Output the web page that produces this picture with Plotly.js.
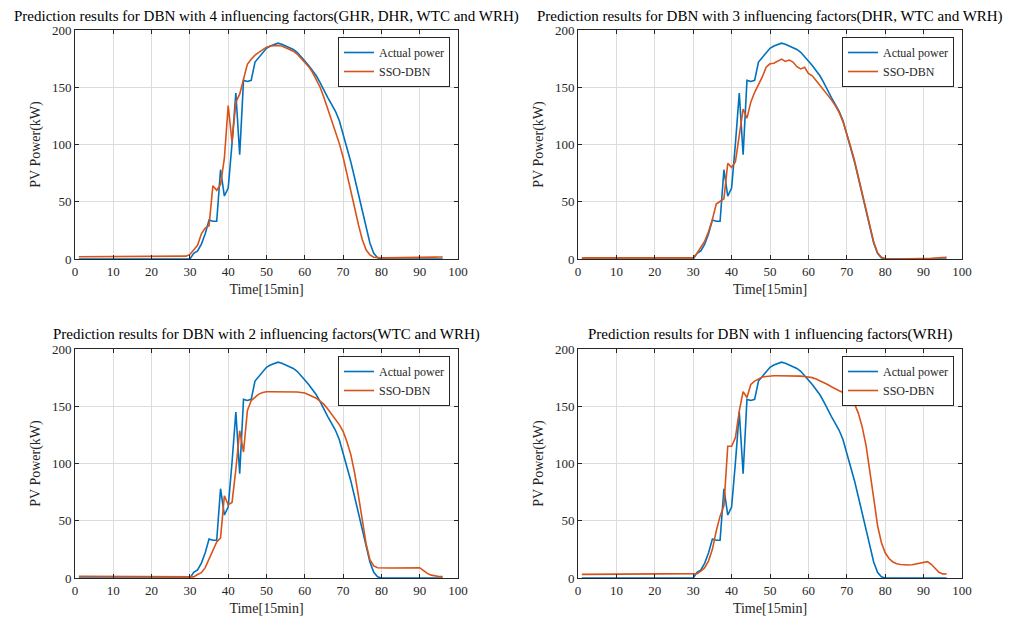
<!DOCTYPE html>
<html>
<head>
<meta charset="utf-8">
<script src="https://cdn.plot.ly/plotly-3.0.1.min.js"></script>
<style>html,body{margin:0;padding:0;background:#fff;}#chart{width:1018px;height:621px;}</style>
</head>
<body>
<div id="chart"></div>
<script>
var timeIdx = [1,2,3,4,5,6,7,8,9,10,11,12,13,14,15,16,17,18,19,20,21,22,23,24,25,26,27,28,29,30,
31,32,33,34,35,36,37,38,39,40,41,42,43,44,45,46,47,48,49,50,51,52,53,54,55,56,57,58,59,60,
61,62,63,64,65,66,67,68,69,70,71,72,73,74,75,76,77,78,79,80,81,82,83,84,85,86,87,88,89,90,
91,92,93,94,95,96];

var actualPower = [0,0,0,0,0,0,0,0,0,0,0,0,0,0,0,0,0,0,0,0,0,0,0,0,0,0,0,0,0,0,
5,7,13,22,34,33,33,78,55,62,101,145,91,156,155,156,172,176,180,184,186,187,188.5,187.5,186,185,183,180.5,177,173,
169,165,160,154,147,141,135,129,121,109,98,85,71,57,42,27,14,5,1,0,0,0,0,0,0,0,0,0,0,0,
0,0,0,0,0,0];

var pred4 = [2,2,2,2,2,2,2,2,2,2,2,2,2,2,2,2,2,2,2,2,2,2,2,2,2,2,2,2,2.5,4,
8,12,22,27,29,64,60,65,88,134,102,137,144,158,170,174.5,178,180.5,183,185,186,186.5,186.5,186,184.5,183,181.5,179,175.5,172,
168,163,157,150,141,131,121,112,101,89,75,60,45,30,17,8,3.5,1.5,1,1,1,1,1,1,1,1,1,1,1.1,1.2,
1.3,1.4,1.5,1.6,1.7,1.8];

var pred3 = [1,1,1,1,1,1,1,1,1,1,1,1,1,1,1,1,1,1,1,1,1,1,1,1,1,1,1,1,1,1,
5,10,15.5,24,34.5,48,50.5,52.6,83.6,80,85,110.5,131,123,137,145.6,152,159,167.5,170.5,171,173,174.6,172.5,173.7,172,168,166,167.5,162,
160,156,152,148,144,139,134,128,120,110,98,86,72,58,43,28,15,5.5,1.5,0.5,0,0,0,0,0,0,0,0,0,0,
0.3,0.6,0.9,1.2,1.4,1.5];

var pred2 = [1.5,1.5,1.5,1.5,1.5,1.5,1.5,1.5,1.5,1.4,1.4,1.4,1.4,1.3,1.3,1.3,1.2,1.2,1.2,1.1,1.1,1.1,1,1,1,1,1,1,1,1,
1,3,4.6,9,16,23.6,31.5,35,71.7,64,66,95,128.6,110,146,155,158,160.6,162,162.7,162.7,162.7,162.7,162.7,162.7,162.7,162.5,162.5,162,161.5,
160,158.6,157,154.5,151.6,147.5,143,139,134,128,119,108,92,72,52,30,16,10.5,9,8.7,8.7,8.7,8.7,8.7,8.7,8.8,8.8,8.9,9,9,
6.5,4,2.5,1.8,1.3,1.2];

var pred1 = [3.2,3.2,3.2,3.2,3.2,3.2,3.2,3.2,3.2,3.2,3.2,3.2,3.2,3.2,3.2,3.2,3.2,3.2,3.2,3.2,3.2,3.2,3.2,3.2,3.2,3.2,3.2,3.2,3.2,3.3,
3.8,6,9,15,25,41,54,63,115,115,122.7,146,162.7,157.7,169,172,174,175.5,176,176.5,176.7,176.7,176.7,176.7,176.7,176.7,176.5,176.3,176,175.8,
175,173.7,172.3,171,169,167,165,163.5,162,161,158,152,144,132,116,95,70,46,31,22,17,14,12.5,11.8,11.5,11.4,11.6,12.2,13,14,
14.3,12,8,5,3.6,3.5];

var subplotTitles = [
  "Prediction results for DBN with 4 influencing factors(GHR, DHR, WTC and WRH)",
  "Prediction results for DBN with 3 influencing factors(DHR, WTC and WRH)",
  "Prediction results for DBN with 2 influencing factors(WTC and WRH)",
  "Prediction results for DBN with 1 influencing factors(WRH)"
];
var seriesNames = ["Actual power", "SSO-DBN"];
var xTitle = "Time[15min]";
var yTitle = "PV Power(kW)";

var preds = [pred4, pred3, pred2, pred1];
var FONT = "Liberation Serif";
var BLUE = "#0072BD", ORANGE = "#D95319";
var W = 1018, H = 621;
var xDom = [[75/W, 458/W], [578/W, 962/W], [75/W, 458/W], [578/W, 962/W]];
var yDom = [[1-259/H, 1-30/H], [1-259/H, 1-30/H], [1-578/H, 1-349/H], [1-578/H, 1-349/H]];

var traces = [];
var layout = {
  width: W, height: H,
  margin: {l:0, r:0, t:0, b:0},
  paper_bgcolor: "#fff", plot_bgcolor: "#fff",
  font: {family: FONT, color: "#262626", size: 13},
  annotations: []
};

for (var i = 0; i < 4; i++) {
  var sfx = i === 0 ? "" : String(i+1);
  var lg = "legend" + sfx;
  traces.push({x: timeIdx, y: actualPower, type: "scatter", mode: "lines", name: seriesNames[0],
    line: {color: BLUE, width: 1.6}, xaxis: "x"+sfx, yaxis: "y"+sfx, legend: lg});
  traces.push({x: timeIdx, y: preds[i], type: "scatter", mode: "lines", name: seriesNames[1],
    line: {color: ORANGE, width: 1.6}, xaxis: "x"+sfx, yaxis: "y"+sfx, legend: lg});
  var axCommon = {
    showline: true, linecolor: "#262626", linewidth: 1, mirror: "ticks",
    ticks: "inside", ticklen: 4, tickcolor: "#262626", tickwidth: 1,
    showgrid: true, gridcolor: "#dcdcdc", gridwidth: 1, zeroline: false,
    tickfont: {family: FONT, size: 13, color: "#262626"}
  };
  layout["xaxis"+sfx] = Object.assign({}, axCommon, {
    domain: xDom[i], range: [0, 100], dtick: 10, tick0: 0, anchor: "y"+sfx,
    title: {text: xTitle, font: {family: FONT, size: 14, color: "#262626"}, standoff: 6}
  });
  layout["yaxis"+sfx] = Object.assign({}, axCommon, {
    domain: yDom[i], range: [0, 200], dtick: 50, tick0: 0, anchor: "x"+sfx,
    title: {text: yTitle, font: {family: FONT, size: 14, color: "#262626"}, standoff: 8}
  });
  var lx = (i % 2 === 0) ? 450/W : 954/W;
  var ly = (i < 2) ? 1-37/H : 1-356/H;
  layout[lg] = {x: lx, y: ly, xanchor: "right", yanchor: "top", bgcolor: "#fff",
    bordercolor: "#262626", borderwidth: 1, font: {family: FONT, size: 12, color: "#262626"},
    tracegroupgap: 0, itemwidth: 30};
  layout.annotations.push({text: subplotTitles[i], xref: "paper", yref: "paper",
    x: (xDom[i][0]+xDom[i][1])/2, y: (i < 2) ? 1-16/H : 1-335/H, xanchor: "center", yanchor: "middle",
    showarrow: false, font: {family: FONT, size: 15, color: "#000"}});
}

Plotly.newPlot("chart", traces, layout, {displayModeBar: false, staticPlot: true});
</script>
</body>
</html>
